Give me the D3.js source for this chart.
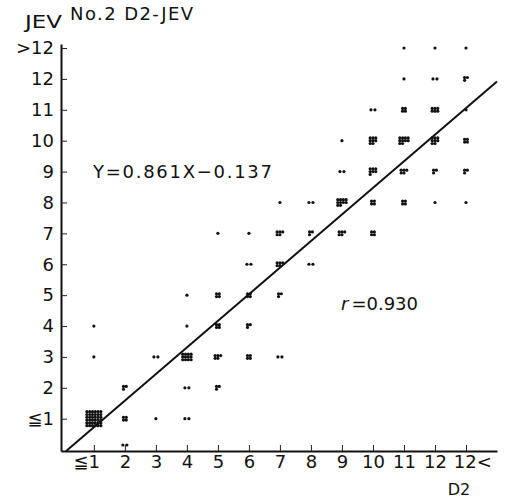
<!DOCTYPE html>
<html><head><meta charset="utf-8">
<script src="https://cdn.jsdelivr.net/npm/d3@7"></script>
<style>
body{margin:0;background:#fff}
svg{display:block}
text{font-family:"DejaVu Sans","Noto Sans",sans-serif;fill:#111}
</style>
</head><body>
<svg id="c" width="507" height="498"></svg>
<script>
// ---- data ----
const xCategories = ["≦1","2","3","4","5","6","7","8","9","10","11","12","12<"];
const yCategories = ["≦1","2","3","4","5","6","7","8","9","10","11","12",">12"];
const pointX = [1,1,1, 2,2,2, 3,3, 4,4,4,4,4, 5,5,5,5,5, 6,6,6,6,6, 7,7,7,7,7, 8,8,8, 9,9,9,9, 10,10,10,10,10, 11,11,11,11,11,11, 12,12,12,12,12,12, 13,13,13,13,13,13];
const pointY = [1,3,4, 0.15,1,2, 1,3, 1,2,3,4,5, 2,3,4,5,7, 3,4,5,6,7, 3,5,6,7,8, 6,7,8, 7,8,9,10, 7,8,9,10,11, 8,9,10,11,12,13, 8,9,10,11,12,13, 8,9,10,11,12,13];
const pointN = [36,1,1, 2,4,3, 1,2, 2,2,12,1,1, 3,5,4,4,1, 4,3,4,2,1, 2,3,5,5,1, 2,3,2, 5,10,2,1, 4,4,7,8,2, 4,5,10,4,1,1, 1,3,8,6,2,1, 1,3,4,1,3,1];
const regSlope = 0.861, regIntercept = -0.137;
const rText = "0.930";
const titleLeft = "JEV", titleRight = "No.2 D2-JEV", xTitle = "D2";

// ---- layout ----
const svg = d3.select("#c");
const xDom = [-0.06, 14.0], yDom = [-0.045, 13.13];
const x = d3.scaleLinear().domain(xDom).range([61, 497]);
const y = d3.scaleLinear().domain(yDom).range([451, 44]);
const tickVals = d3.range(1, 14);

const gx = svg.append("g").attr("transform","translate(0,451)")
  .call(d3.axisBottom(x).tickValues(tickVals).tickFormat((d,i)=>xCategories[i])
    .tickSizeInner(-6).tickSizeOuter(0).tickPadding(4));
const gy = svg.append("g").attr("transform","translate(61,0)")
  .call(d3.axisLeft(y).tickValues(tickVals).tickFormat((d,i)=>yCategories[i])
    .tickSizeInner(-6).tickSizeOuter(0).tickPadding(7));
[gx, gy].forEach(g=>{
  g.select(".domain").attr("stroke","#111").attr("stroke-width",2);
  g.selectAll(".tick line").attr("stroke","#222").attr("stroke-width",1);
  g.selectAll(".tick text").attr("font-size",18).attr("fill","#111")
   .style("font-family",'"DejaVu Sans","Noto Sans",sans-serif');
});
gx.selectAll(".tick text").attr("dx", t => {
  const s = xCategories[t-1];
  return s.startsWith("≦") ? "-0.42em" : (s.endsWith("<") ? "0.35em" : 0);
});

// regression line
const lx0 = (yDom[0] - regIntercept) / regSlope, lx1 = xDom[1];
svg.append("line")
  .attr("x1", x(lx0)).attr("y1", y(regSlope*lx0 + regIntercept))
  .attr("x2", x(lx1)).attr("y2", y(regSlope*lx1 + regIntercept))
  .attr("stroke","#111").attr("stroke-width",2);

// points: clusters of small dots
const pts = pointX.map((px,i)=>({x:px, y:pointY[i], n:pointN[i]}));
const gap = 2.8;
pts.forEach(p=>{
  const cols = Math.ceil(Math.sqrt(p.n));
  const rows = Math.ceil(p.n / cols);
  const cx = x(p.x), cy = y(p.y);
  const spacing = p.n === 2 ? 4 : gap;
  for (let k = 0; k < p.n; k++) {
    const c = k % cols, r = Math.floor(k / cols);
    svg.append("circle")
      .attr("cx", cx + (c - (cols-1)/2) * spacing)
      .attr("cy", cy + (r - (rows-1)/2) * spacing)
      .attr("r", 1.6).attr("fill","#111");
  }
});

// texts
svg.append("text").attr("x",25).attr("y",28).attr("font-size",18)
  .attr("textLength",37).attr("lengthAdjust","spacingAndGlyphs").text(titleLeft);
svg.append("text").attr("x",70).attr("y",20).attr("font-size",18)
  .attr("textLength",123).attr("lengthAdjust","spacing").text(titleRight);
svg.append("text").attr("x",93).attr("y",178).attr("font-size",18)
  .attr("textLength",179).attr("lengthAdjust","spacing")
  .text(`Y=${regSlope}X\u2212${Math.abs(regIntercept)}`);
const rt = svg.append("text").attr("x",341).attr("y",310).attr("font-size",18);
rt.append("tspan").attr("font-style","italic").text("r");
rt.append("tspan").attr("dx",3).text("=" + rText);
svg.append("text").attr("x",459).attr("y",495).attr("font-size",16)
  .attr("text-anchor","middle").text(xTitle);
</script>
</body></html>
